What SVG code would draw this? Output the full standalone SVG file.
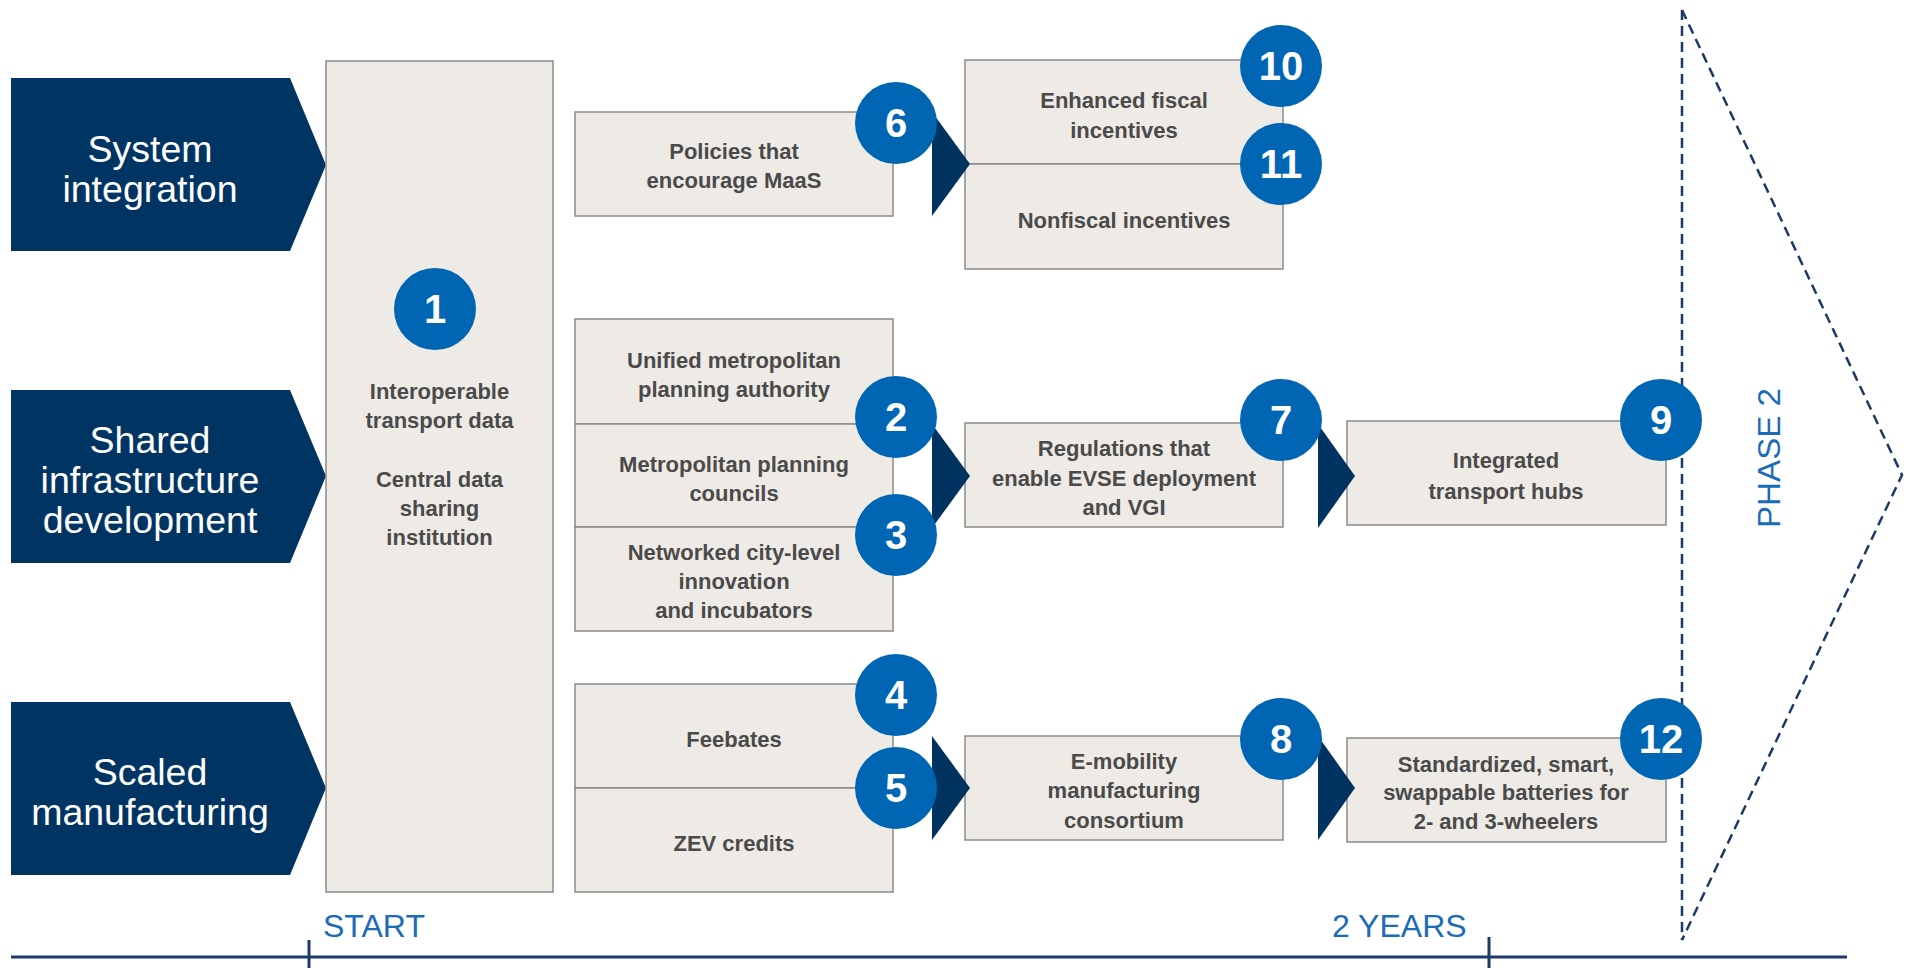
<svg xmlns="http://www.w3.org/2000/svg" width="1910" height="968" viewBox="0 0 1910 968">
<style>
.pent{fill:#003462}
.ptxt{font-family:"Liberation Sans",Arial,sans-serif;font-size:37.5px;fill:#ffffff;text-anchor:middle}
.box{fill:#eeebe6;stroke:#8a8a8a;stroke-width:1.5}
.btxt{font-family:"Liberation Sans",Arial,sans-serif;font-size:22px;font-weight:bold;fill:#4a4a4a;text-anchor:middle}
.tri{fill:#00335f}
.circ{fill:#0066b3}
.num{font-family:"Liberation Sans",Arial,sans-serif;font-size:40px;font-weight:bold;fill:#ffffff;text-anchor:middle}
.blue{font-family:"Liberation Sans",Arial,sans-serif;font-size:32px;fill:#1a6bb8}
.dash{fill:none;stroke:#1c3a66;stroke-width:2.5;stroke-dasharray:10 6}
.axis{stroke:#1c3a66;stroke-width:3;fill:none}
</style>
<rect width="1910" height="968" fill="#ffffff"/>

<g id="lane-system">
<polygon class="pent" points="11,78 290,78 326,165 290,251 11,251"/>
<text class="ptxt" x="150" y="162">System</text>
<text class="ptxt" x="150" y="202">integration</text>
</g>
<g id="lane-shared">
<polygon class="pent" points="11,390 290,390 326,476 290,563 11,563"/>
<text class="ptxt" x="150" y="453">Shared</text>
<text class="ptxt" x="150" y="493">infrastructure</text>
<text class="ptxt" x="150" y="533">development</text>
</g>
<g id="lane-scaled">
<polygon class="pent" points="11,702 290,702 326,788 290,875 11,875"/>
<text class="ptxt" x="150" y="785">Scaled</text>
<text class="ptxt" x="150" y="825">manufacturing</text>
</g>

<g id="node1">
<rect class="box" x="326" y="61" width="227" height="831"/>
<text class="btxt" x="439.5" y="399">Interoperable</text>
<text class="btxt" x="439.5" y="428">transport data</text>
<text class="btxt" x="439.5" y="487">Central data</text>
<text class="btxt" x="439.5" y="516">sharing</text>
<text class="btxt" x="439.5" y="545">institution</text>
</g>
<g id="node6">
<rect class="box" x="575" y="112" width="318" height="104"/>
<text class="btxt" x="734" y="159">Policies that</text>
<text class="btxt" x="734" y="188">encourage MaaS</text>
</g>
<g id="node10">
<rect class="box" x="965" y="60" width="318" height="104"/>
<text class="btxt" x="1124" y="108">Enhanced fiscal</text>
<text class="btxt" x="1124" y="138">incentives</text>
</g>
<g id="node11">
<rect class="box" x="965" y="164" width="318" height="105"/>
<text class="btxt" x="1124" y="228">Nonfiscal incentives</text>
</g>
<g id="node2a">
<rect class="box" x="575" y="319" width="318" height="105"/>
<text class="btxt" x="734" y="368">Unified metropolitan</text>
<text class="btxt" x="734" y="397">planning authority</text>
</g>
<g id="node2b">
<rect class="box" x="575" y="424" width="318" height="103"/>
<text class="btxt" x="734" y="472">Metropolitan planning</text>
<text class="btxt" x="734" y="501">councils</text>
</g>
<g id="node3">
<rect class="box" x="575" y="527" width="318" height="104"/>
<text class="btxt" x="734" y="560">Networked city-level</text>
<text class="btxt" x="734" y="589">innovation</text>
<text class="btxt" x="734" y="618">and incubators</text>
</g>
<g id="node7">
<rect class="box" x="965" y="423" width="318" height="104"/>
<text class="btxt" x="1124" y="456">Regulations that</text>
<text class="btxt" x="1124" y="486">enable EVSE deployment</text>
<text class="btxt" x="1124" y="515">and VGI</text>
</g>
<g id="node9">
<rect class="box" x="1347" y="421" width="319" height="104"/>
<text class="btxt" x="1506" y="468">Integrated</text>
<text class="btxt" x="1506" y="499">transport hubs</text>
</g>
<g id="node4">
<rect class="box" x="575" y="684" width="318" height="104"/>
<text class="btxt" x="734" y="747">Feebates</text>
</g>
<g id="node5">
<rect class="box" x="575" y="788" width="318" height="104"/>
<text class="btxt" x="734" y="851">ZEV credits</text>
</g>
<g id="node8">
<rect class="box" x="965" y="736" width="318" height="104"/>
<text class="btxt" x="1124" y="769">E-mobility</text>
<text class="btxt" x="1124" y="798">manufacturing</text>
<text class="btxt" x="1124" y="828">consortium</text>
</g>
<g id="node12">
<rect class="box" x="1347" y="738" width="319" height="104"/>
<text class="btxt" x="1506" y="772">Standardized, smart,</text>
<text class="btxt" x="1506" y="800">swappable batteries for</text>
<text class="btxt" x="1506" y="829">2- and 3-wheelers</text>
</g>

<g id="phase2">
<line class="dash" x1="1682" y1="10" x2="1682" y2="940"/>
<polyline class="dash" points="1682,10 1902,475 1682,940"/>
<text class="blue" font-size="36" text-anchor="middle" transform="translate(1780,458) rotate(-90)" textLength="140" lengthAdjust="spacingAndGlyphs">PHASE 2</text>
</g>

<g id="connectors">
<polygon class="tri" points="932,112 970,164 932,216"/>
<polygon class="tri" points="932,424 970,476 932,528"/>
<polygon class="tri" points="932,736 970,788 932,840"/>
<polygon class="tri" points="1318,424 1355,476 1318,528"/>
<polygon class="tri" points="1318,736 1355,788 1318,840"/>
</g>

<g id="badges">
<circle class="circ" cx="435" cy="309" r="41"/><text class="num" x="435" y="323">1</text>
<circle class="circ" cx="896" cy="123" r="41"/><text class="num" x="896" y="137">6</text>
<circle class="circ" cx="1281" cy="66" r="41"/><text class="num" x="1281" y="80">10</text>
<circle class="circ" cx="1281" cy="164" r="41"/><text class="num" x="1281" y="178">11</text>
<circle class="circ" cx="896" cy="417" r="41"/><text class="num" x="896" y="431">2</text>
<circle class="circ" cx="896" cy="535" r="41"/><text class="num" x="896" y="549">3</text>
<circle class="circ" cx="1281" cy="420" r="41"/><text class="num" x="1281" y="434">7</text>
<circle class="circ" cx="1661" cy="420" r="41"/><text class="num" x="1661" y="434">9</text>
<circle class="circ" cx="896" cy="695" r="41"/><text class="num" x="896" y="709">4</text>
<circle class="circ" cx="896" cy="788" r="41"/><text class="num" x="896" y="802">5</text>
<circle class="circ" cx="1281" cy="739" r="41"/><text class="num" x="1281" y="753">8</text>
<circle class="circ" cx="1661" cy="739" r="41"/><text class="num" x="1661" y="753">12</text>
</g>

<g id="timeline">
<line class="axis" x1="11" y1="957" x2="1847" y2="957"/>
<line class="axis" x1="309" y1="940" x2="309" y2="968" stroke-width="2"/>
<line class="axis" x1="1489" y1="937" x2="1489" y2="968" stroke-width="2"/>
<text class="blue" x="323" y="937">START</text>
<text class="blue" x="1332" y="937">2 YEARS</text>
</g>
</svg>
